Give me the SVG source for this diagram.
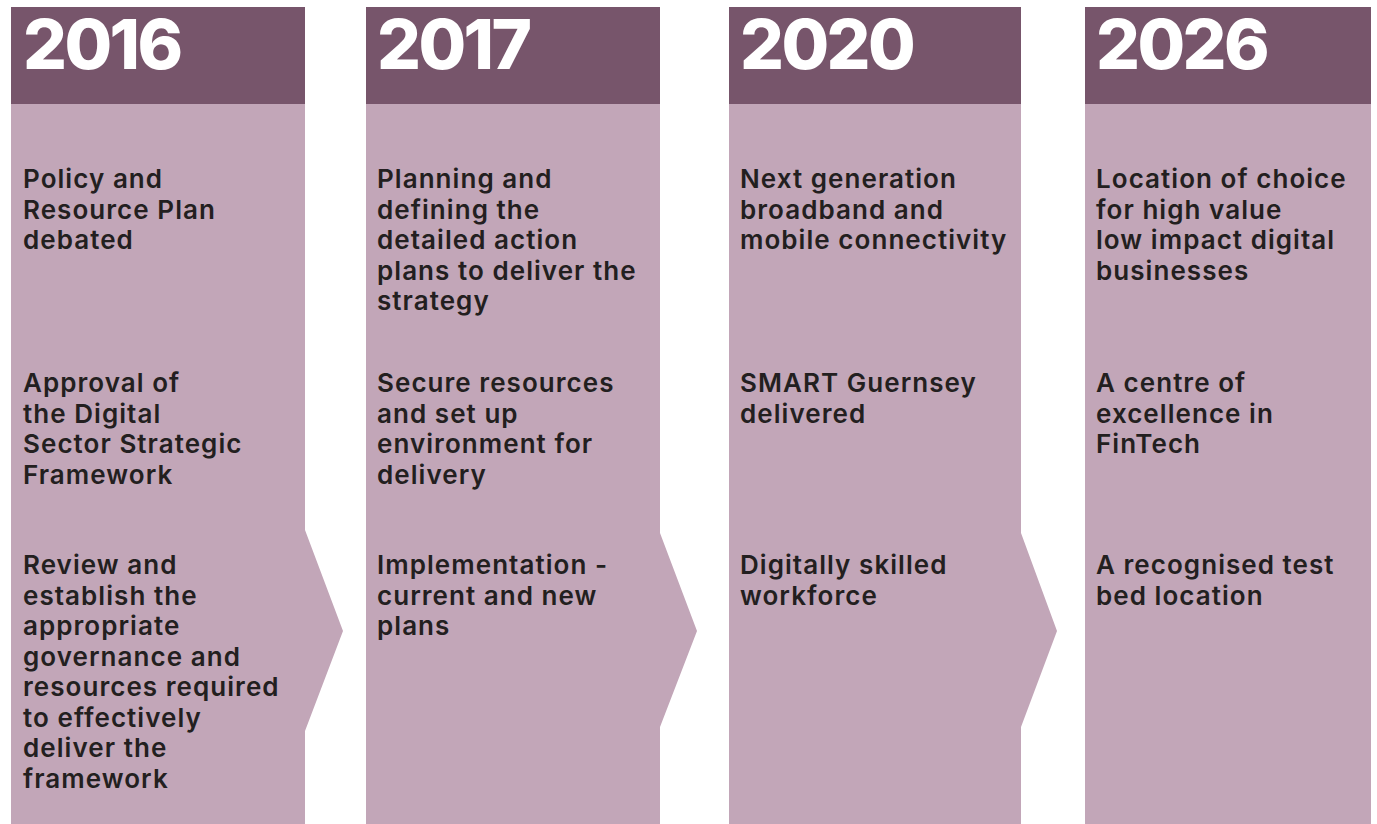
<svg xmlns="http://www.w3.org/2000/svg" width="1377" height="824" viewBox="0 0 1377 824">
  <style>
    .head { fill: #77556B; }
    .body { fill: #C2A6B8; }
    .year { font-family: "Inter", "Liberation Sans", sans-serif; font-weight: 800; font-size: 69px; fill: #FFFFFF; letter-spacing: -2.6px; }
    .item { font-family: "Inter", "Liberation Sans", sans-serif; font-weight: 560; font-size: 26px; fill: #231F20; letter-spacing: 1.05px; }
  </style>
  <rect width="1377" height="824" fill="#FFFFFF"/>

  <!-- 2016 -->
  <g id="col-2016">
    <path class="body" d="M11 103 H305 V530 L343 631 L305 731 V824 H11 Z"/>
    <rect class="head" x="11" y="7" width="294" height="97"/>
    <text class="year" x="23" y="69">2016</text>
    <text class="item" x="23" y="188">
      <tspan x="23" dy="0">Policy and</tspan>
      <tspan x="23" dy="30.5">Resource Plan</tspan>
      <tspan x="23" dy="30.5">debated</tspan>
    </text>
    <text class="item" x="23" y="392">
      <tspan x="23" dy="0">Approval of</tspan>
      <tspan x="23" dy="30.5">the Digital</tspan>
      <tspan x="23" dy="30.5">Sector Strategic</tspan>
      <tspan x="23" dy="30.5">Framework</tspan>
    </text>
    <text class="item" x="23" y="574">
      <tspan x="23" dy="0">Review and</tspan>
      <tspan x="23" dy="30.5">establish the</tspan>
      <tspan x="23" dy="30.5">appropriate</tspan>
      <tspan x="23" dy="30.5">governance and</tspan>
      <tspan x="23" dy="30.5">resources required</tspan>
      <tspan x="23" dy="30.5">to effectively</tspan>
      <tspan x="23" dy="30.5">deliver the</tspan>
      <tspan x="23" dy="30.5">framework</tspan>
    </text>
  </g>

  <!-- 2017 -->
  <g id="col-2017">
    <path class="body" d="M366 103 H660 V533 L697 631 L660 727 V824 H366 Z"/>
    <rect class="head" x="366" y="7" width="294" height="97"/>
    <text class="year" x="377" y="69">2017</text>
    <text class="item" x="377" y="188">
      <tspan x="377" dy="0">Planning and</tspan>
      <tspan x="377" dy="30.5">defining the</tspan>
      <tspan x="377" dy="30.5">detailed action</tspan>
      <tspan x="377" dy="30.5">plans to deliver the</tspan>
      <tspan x="377" dy="30.5">strategy</tspan>
    </text>
    <text class="item" x="377" y="392">
      <tspan x="377" dy="0">Secure resources</tspan>
      <tspan x="377" dy="30.5">and set up</tspan>
      <tspan x="377" dy="30.5">environment for</tspan>
      <tspan x="377" dy="30.5">delivery</tspan>
    </text>
    <text class="item" x="377" y="574">
      <tspan x="377" dy="0">Implementation -</tspan>
      <tspan x="377" dy="30.5">current and new</tspan>
      <tspan x="377" dy="30.5">plans</tspan>
    </text>
  </g>

  <!-- 2020 -->
  <g id="col-2020">
    <path class="body" d="M729 103 H1021 V533 L1057 631 L1021 727 V824 H729 Z"/>
    <rect class="head" x="729" y="7" width="292" height="97"/>
    <text class="year" x="740" y="69">2020</text>
    <text class="item" x="740" y="188">
      <tspan x="740" dy="0">Next generation</tspan>
      <tspan x="740" dy="30.5">broadband and</tspan>
      <tspan x="740" dy="30.5">mobile connectivity</tspan>
    </text>
    <text class="item" x="740" y="392">
      <tspan x="740" dy="0">SMART Guernsey</tspan>
      <tspan x="740" dy="30.5">delivered</tspan>
    </text>
    <text class="item" x="740" y="574">
      <tspan x="740" dy="0">Digitally skilled</tspan>
      <tspan x="740" dy="30.5">workforce</tspan>
    </text>
  </g>

  <!-- 2026 -->
  <g id="col-2026">
    <rect class="body" x="1085" y="103" width="286" height="721"/>
    <rect class="head" x="1085" y="7" width="286" height="97"/>
    <text class="year" x="1096" y="69">2026</text>
    <text class="item" x="1096" y="188">
      <tspan x="1096" dy="0">Location of choice</tspan>
      <tspan x="1096" dy="30.5">for high value</tspan>
      <tspan x="1096" dy="30.5">low impact digital</tspan>
      <tspan x="1096" dy="30.5">businesses</tspan>
    </text>
    <text class="item" x="1096" y="392">
      <tspan x="1096" dy="0">A centre of</tspan>
      <tspan x="1096" dy="30.5">excellence in</tspan>
      <tspan x="1096" dy="30.5">FinTech</tspan>
    </text>
    <text class="item" x="1096" y="574">
      <tspan x="1096" dy="0">A recognised test</tspan>
      <tspan x="1096" dy="30.5">bed location</tspan>
    </text>
  </g>

  <g id="connectors"/>
</svg>
